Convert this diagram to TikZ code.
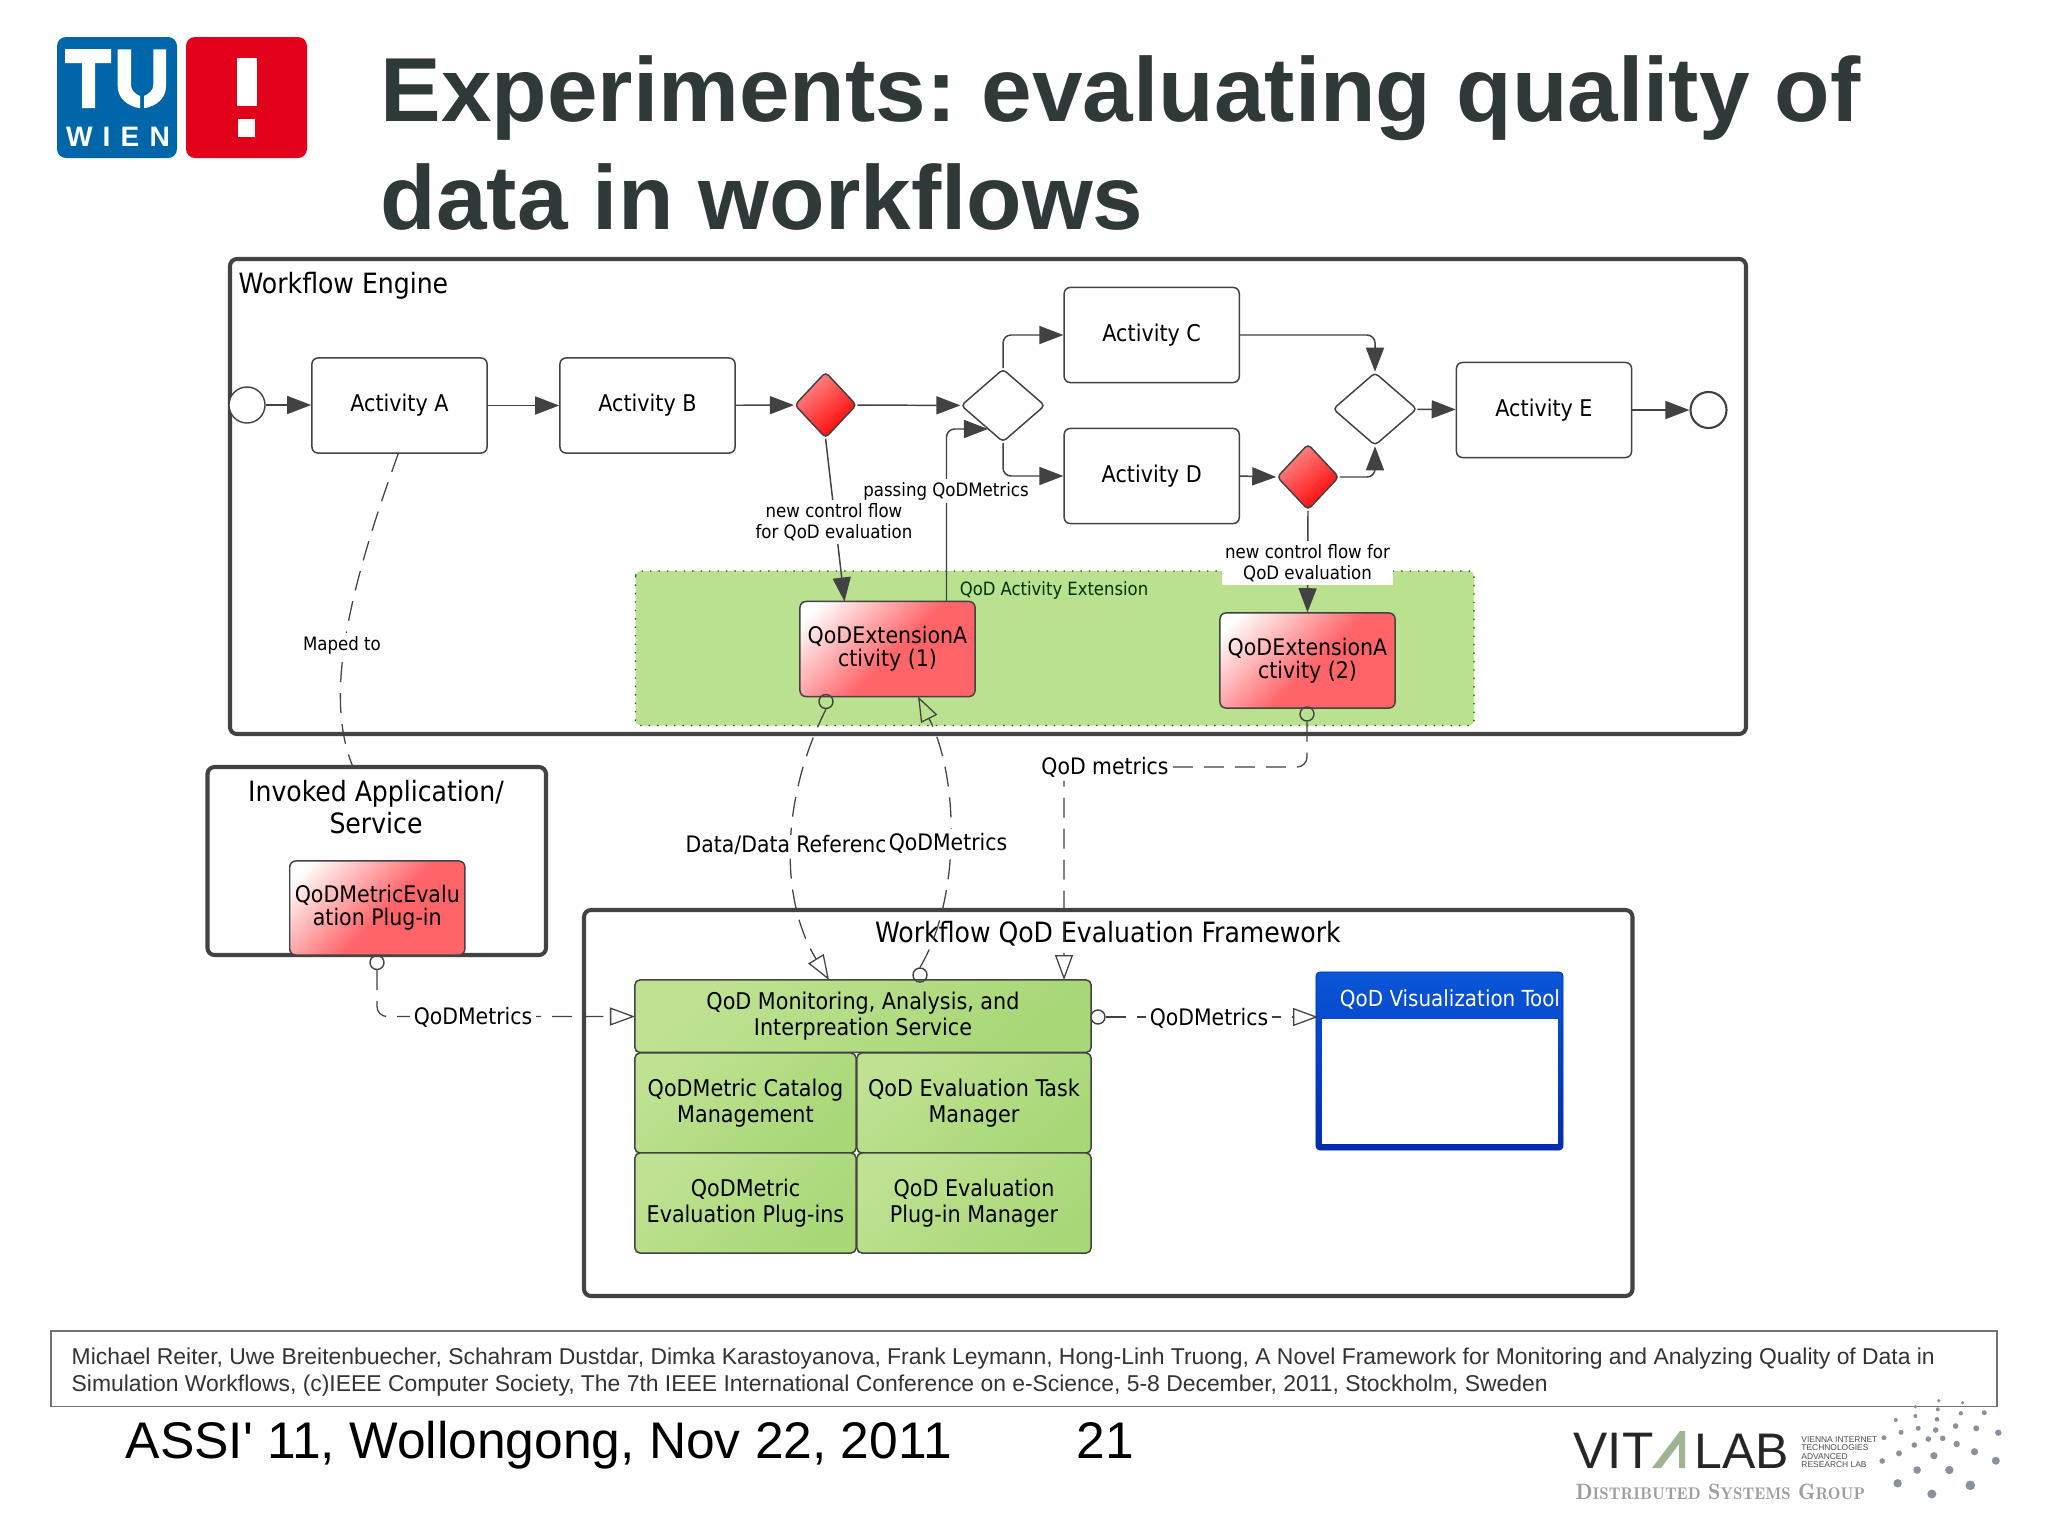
\documentclass[tikz,border=0pt]{standalone}
\usepackage{fontspec}
\setmainfont{Liberation Sans}
\newfontfamily\diagfont{DejaVu Sans Condensed}
\usepackage{xcolor}
\usetikzlibrary{arrows.meta,shapes.geometric}
\definecolor{tublue}{RGB}{0,102,170}
\definecolor{tured}{RGB}{227,0,27}
\definecolor{titlegray}{RGB}{47,57,55}
\definecolor{flowgray}{RGB}{66,66,66}
\definecolor{extgreen}{RGB}{186,225,143}
\definecolor{compgreen}{RGB}{168,215,118}
\definecolor{complight}{RGB}{190,226,146}
\definecolor{extpink}{RGB}{255,100,105}
\definecolor{visblue}{RGB}{10,86,216}
\definecolor{visdark}{RGB}{0,44,176}
\definecolor{citegray}{RGB}{51,51,51}
\definecolor{labgreen}{RGB}{160,180,145}
\definecolor{dotgray}{RGB}{136,145,156}
\pgfdeclareverticalshading{extshade}{100bp}{color(0bp)=(extpink); color(47bp)=(extpink); color(80bp)=(white); color(100bp)=(white)}
\tikzset{
  frame/.style={draw=flowgray,line width=1.15pt,rounded corners=.07cm},
  actbox/.style={draw=flowgray,line width=.42pt,rounded corners=.06cm,fill=white,inner sep=0pt,
    minimum width=1.75cm,minimum height=.95cm,font=\diagfont\fontsize{6.55}{7.5}\selectfont},
  extbox/.style={draw=flowgray,line width=.42pt,rounded corners=.06cm,inner sep=0pt,
    minimum width=1.75cm,minimum height=.95cm,align=center,shading=extshade,shading angle=45,
    font=\diagfont\fontsize{6.5}{6.5}\selectfont},
  compbox/.style={draw=flowgray,line width=.42pt,rounded corners=.05cm,inner sep=0pt,align=center,
    top color=complight,bottom color=compgreen,shading angle=40,
    font=\diagfont\fontsize{6.55}{7.4}\selectfont},
  gatewhite/.style={diamond,draw=flowgray,line width=.42pt,rounded corners=.04cm,fill=white,inner sep=0pt,
    minimum width=.84cm,minimum height=.73cm},
  gatered/.style={diamond,draw=flowgray,line width=.42pt,rounded corners=.04cm,inner sep=0pt,
    top color=red!45!white,bottom color=red,shading angle=40,minimum width=.62cm,minimum height=.66cm},
  eventcirc/.style={circle,draw=flowgray,fill=white,inner sep=0pt,minimum size=.36cm},
  sockcirc/.style={circle,draw=flowgray,line width=.4pt,fill=none,inner sep=0pt,minimum size=.14cm},
  flowline/.style={draw=flowgray,line width=.42pt,rounded corners=.08cm,
    -{Triangle[length=.24cm,width=.18cm]}},
  depline/.style={draw=flowgray,line width=.36pt,rounded corners=.1cm,dash pattern=on .2cm off .11cm,
    -{Triangle[open,length=.25cm,width=.18cm]}},
  smalltext/.style={fill=white,inner sep=1pt,align=center,font=\diagfont\fontsize{5.25}{6}\selectfont},
  midtext/.style={fill=white,inner sep=1pt,align=center,font=\diagfont\fontsize{6.45}{7.5}\selectfont},
  bigtext/.style={inner sep=0pt,align=center,font=\diagfont\fontsize{7.95}{9.1}\selectfont},
}
\begin{document}
\frenchspacing
\begin{tikzpicture}[x=.01cm,y=-.01cm]
  \useasboundingbox (0,0) rectangle (2048,1536);
  \fill[white] (0,0) rectangle (2048,1536);

  \fill[tublue,rounded corners=.09cm] (57,37) rectangle (177,158);
  \fill[tured,rounded corners=.09cm] (186,37) rectangle (307,158);
  \fill[white] (65,49) -- (111,49) -- (111,63) -- (95,63) -- (95,108) -- (82,108) -- (82,63) -- (65,63) -- cycle;
  \fill[white] (117.7,49.3) -- (131,49.3) -- (131,85) .. controls (131,90) and (135,94) .. (140,96) -- (140,108.3) .. controls (127,106) and (117.7,98) .. (117.7,86) -- cycle;
  \fill[white] (166,49.3) -- (153.3,49.3) -- (153.3,85) .. controls (153.3,90) and (149,94) .. (144,96) -- (144,108.3) .. controls (157,106) and (166,98) .. (166,86) -- cycle;
  \fill[white] (237,58) rectangle (257,106);
  \fill[white] (238,119) rectangle (255,137);
  \node[inner sep=0pt,text=white,font=\bfseries\fontsize{8}{8}\selectfont\addfontfeature{LetterSpace=36}] (wien) at (118,137) {WIEN};

  \node[anchor=base west,inner sep=0pt,text=titlegray,font=\bfseries\fontsize{25.85}{30}\selectfont] (titleA) at (380,121) {Experiments: evaluating quality of};
  \node[anchor=base west,inner sep=0pt,text=titlegray,font=\bfseries\fontsize{25.85}{30}\selectfont] (titleB) at (380,229) {data in workflows};

  \draw[frame] (230,259) rectangle (1746,734);
  \draw[frame] (207.5,767) rectangle (546,955);
  \draw[frame] (584,910) rectangle (1632.5,1296);
  \draw[fill=extgreen,draw=green!40!black,dotted,line width=.4pt,rounded corners=.05cm] (635.5,571) rectangle (1474,725.5);

  \node[bigtext,anchor=west] (engineLabel) at (238,285.5) {Workflow Engine};
  \node[bigtext] (invokedLabel) at (376,807) {Invoked Application/\\Service};
  \node[bigtext] (frameworkLabel) at (1108,934) {Workflow QoD Evaluation Framework};
  \node[inner sep=0pt,text=green!20!black,font=\diagfont\fontsize{5.2}{6}\selectfont] (extLabel) at (1054,590) {QoD Activity Extension};

  \node[eventcirc] (startEvt) at (247,405) {};
  \node[actbox] (actA) at (399.5,405.5) {Activity A};
  \node[actbox] (actB) at (647.5,405.5) {Activity B};
  \node[gatered] (gateA) at (825.6,405) {};
  \node[gatewhite] (gwSplit) at (1003,405.5) {};
  \node[actbox] (actC) at (1151.7,335) {Activity C};
  \node[actbox] (actD) at (1151.7,476) {Activity D};
  \node[gatered] (gateB) at (1308,477) {};
  \node[gatewhite] (gwJoin) at (1375,409) {};
  \node[actbox] (actE) at (1544,410) {Activity E};
  \node[eventcirc,line width=.6pt] (endEvt) at (1708.5,410) {};
  \node[extbox] (extOne) at (887.5,649) {QoDExtensionA\\ctivity (1)};
  \node[extbox] (extTwo) at (1307.5,660.5) {QoDExtensionA\\ctivity (2)};
  \node[extbox,minimum height=.94cm] (pluginBox) at (377.3,908) {QoDMetricEvalu\\ation Plug-in};
  \node[compbox,minimum width=4.56cm,minimum height=.725cm] (monitorBox) at (863,1016.2) {QoD Monitoring, Analysis, and\\Interpreation Service};
  \node[compbox,minimum width=2.21cm,minimum height=1cm] (catalogBox) at (745.5,1103) {QoDMetric Catalog\\Management};
  \node[compbox,minimum width=2.34cm,minimum height=1cm] (taskBox) at (974,1103) {QoD Evaluation Task\\Manager};
  \node[compbox,minimum width=2.21cm,minimum height=1cm] (pluginsBox) at (745.5,1203) {QoDMetric\\Evaluation Plug-ins};
  \node[compbox,minimum width=2.34cm,minimum height=1cm] (managerBox) at (974,1203) {QoD Evaluation\\Plug-in Manager};

  \node[draw=visdark,line width=.2pt,top color=visblue,bottom color=visdark,rounded corners=.04cm,inner sep=0pt,minimum width=2.47cm,minimum height=1.78cm] (visFrame) at (1439.5,1061) {};
  \node[fill=white,inner sep=0pt,minimum width=2.36cm,minimum height=1.25cm] (visPane) at (1440,1081.5) {};
  \node[inner sep=0pt,text=white,font=\diagfont\fontsize{6.3}{7}\selectfont] (visLabel) at (1450,999) {QoD Visualization Tool};

  \node[sockcirc] (sockExtOne) at (826,701.5) {};
  \node[sockcirc] (sockExtTwo) at (1307,714) {};
  \node[sockcirc] (sockPlugin) at (377,962.5) {};
  \node[sockcirc] (sockMonTop) at (920,975) {};
  \node[sockcirc] (sockMonRight) at (1098,1017) {};

  \coordinate (extOneIn) at (844.5,601.5);
  \coordinate (extOneOut) at (946.5,601.5);
  \coordinate (gwSplitIn) at (988,429);
  \coordinate (extOneBack) at (918,696.5);
  \coordinate (monDataIn) at (829,980);
  \coordinate (monQodIn) at (1064,980);
  \coordinate (monPluginIn) at (635,1016.5);
  \coordinate (visIn) at (1318,1017);
  \coordinate (actAOut) at (398.5,453);
  \coordinate (invokedIn) at (353,767);

  \draw[flowline] (startEvt) -- (actA.west |- startEvt);
  \draw[flowline] (actA) -- (actB);
  \draw[flowline] (actB) -- (gateA);
  \draw[flowline] (gateA) -- (gwSplit);
  \draw[flowline] (gwSplit.north) |- (actC.west);
  \draw[flowline] (gwSplit.south) |- (actD.west);
  \draw[flowline] (actC.east) -| (gwJoin.north);
  \draw[flowline] (actD.east) -- (gateB.west);
  \draw[flowline] (gateB.east) -| (gwJoin.south);
  \draw[flowline] (gwJoin) -- (actE);
  \draw[flowline] (actE) -- (endEvt);
  \draw[flowline] (gateA.south) -- (extOneIn);
  \draw[flowline] (extOneOut) |- (gwSplitIn);
  \draw[flowline] (gateB.south) -- (extTwo.north);

  \draw[draw=flowgray,line width=.36pt,dash pattern=on .2cm off .11cm] (actAOut) .. controls (345,600) and (325,700) .. (invokedIn);
  \draw[depline] (sockExtOne.south) .. controls (780,800) and (780,900) .. (monDataIn);
  \draw[depline] (sockMonTop.north) .. controls (960,900) and (960,780) .. (extOneBack);
  \draw[depline] (sockExtTwo.south) |- (1064,767) -- (monQodIn);
  \draw[depline] (sockPlugin.south) |- (monPluginIn);
  \draw[depline] (sockMonRight.east) -- (visIn);

  \node[smalltext] (mapLabel) at (342,645) {Maped to};
  \node[smalltext] (flowLabelA) at (834,522) {new control flow\\for QoD evaluation};
  \node[smalltext] (passLabel) at (946,491) {passing QoDMetrics};
  \node[smalltext,minimum width=1.65cm,minimum height=.41cm] (flowLabelB) at (1307.5,563) {new control flow for\\QoD evaluation};
  \node[midtext,anchor=west,inner sep=0pt] (dataLabel) at (685,845) {Data/Data Referenc};
  \node[midtext] (metricsLabelA) at (948,843) {QoDMetrics};
  \node[midtext] (qodLabel) at (1105,767) {QoD metrics};
  \node[midtext] (metricsLabelB) at (473,1017) {QoDMetrics};
  \node[midtext] (metricsLabelC) at (1209,1018) {QoDMetrics};

  \draw[draw=black!55,line width=.35pt] (51,1331) rectangle (1997,1406.7);
  \node[anchor=base west,inner sep=0pt,text=citegray,font=\fontsize{6.51}{7}\selectfont] (citeA) at (71,1364) {Michael Reiter, Uwe Breitenbuecher, Schahram Dustdar, Dimka Karastoyanova, Frank Leymann, Hong-Linh Truong, A Novel Framework for Monitoring and Analyzing Quality of Data in};
  \node[anchor=base west,inner sep=0pt,text=citegray,font=\fontsize{6.51}{7}\selectfont] (citeB) at (71,1391) {Simulation Workflows, (c)IEEE Computer Society, The 7th IEEE International Conference on e-Science, 5-8 December, 2011, Stockholm, Sweden};

  \node[anchor=base west,inner sep=0pt,font=\fontsize{14.65}{16}\selectfont] (footA) at (125,1458) {ASSI\textquotesingle{} 11, Wollongong, Nov 22, 2011};
  \node[anchor=base west,inner sep=0pt,font=\fontsize{14.65}{16}\selectfont] (footB) at (1076,1458) {21};

  \node[anchor=base west,inner sep=0pt,text=black!85,font=\fontsize{14.6}{16}\selectfont] (labA) at (1573,1468) {VIT};
  \fill[labgreen] (1652,1468) -- (1680,1431) -- (1685,1431) -- (1685,1468) -- (1679,1468) -- (1679,1444) -- (1661,1468) -- cycle;
  \node[anchor=base west,inner sep=0pt,text=black!85,font=\fontsize{14.2}{16}\selectfont] (labB) at (1694,1468) {LAB};
  \node[anchor=north west,inner sep=0pt,align=left,text=black!70,font=\fontsize{2.4}{2.4}\selectfont] (labText) at (1800.7,1436) {VIENNA INTERNET\\TECHNOLOGIES\\ADVANCED\\RESEARCH LAB};
  \node[anchor=base west,inner sep=0pt,text=black!38,font=\fontfamily{lmr}\bfseries\fontsize{6.3}{8}\selectfont] (groupLabel) at (1575,1499) {D{\fontsize{4.8}{8}\selectfont ISTRIBUTED} S{\fontsize{4.8}{8}\selectfont YSTEMS} G{\fontsize{4.8}{8}\selectfont ROUP}};
  \foreach \dx/\dy/\dr in {1938.8/1400.7/1.8,1962.6/1402.7/1.8,1915.4/1406.7/1.8,1937.8/1409.3/2,1960.8/1413.3/2.2,1984.3/1412.7/2.5,1915.4/1416/2,1895.8/1420/2,1937/1419.3/2.3,1918.2/1428.3/2.5,1901/1432.3/2.5,1935.7/1430/2.8,1955.6/1426/2.8,1976.2/1428.3/3,1998.3/1432.7/3.2,1883.9/1437.7/2.5,1928.3/1439/2.8,1942.7/1438.3/2.8,1914.3/1445/2.8,1956.6/1444/3.2,1974.5/1451.7/3.6,1899/1453.3/3,1933.9/1455.7/3.6,1995.8/1460.7/4,1882.2/1461/2.8,1917.1/1470/3.8,1949.3/1470/4.2,1897.6/1483.3/4.2,1931.8/1494/4.5,1970.3/1485.3/4.8}
    \fill[dotgray] (\dx,\dy) circle[radius=\dr*.01cm];
\end{tikzpicture}
\end{document}
